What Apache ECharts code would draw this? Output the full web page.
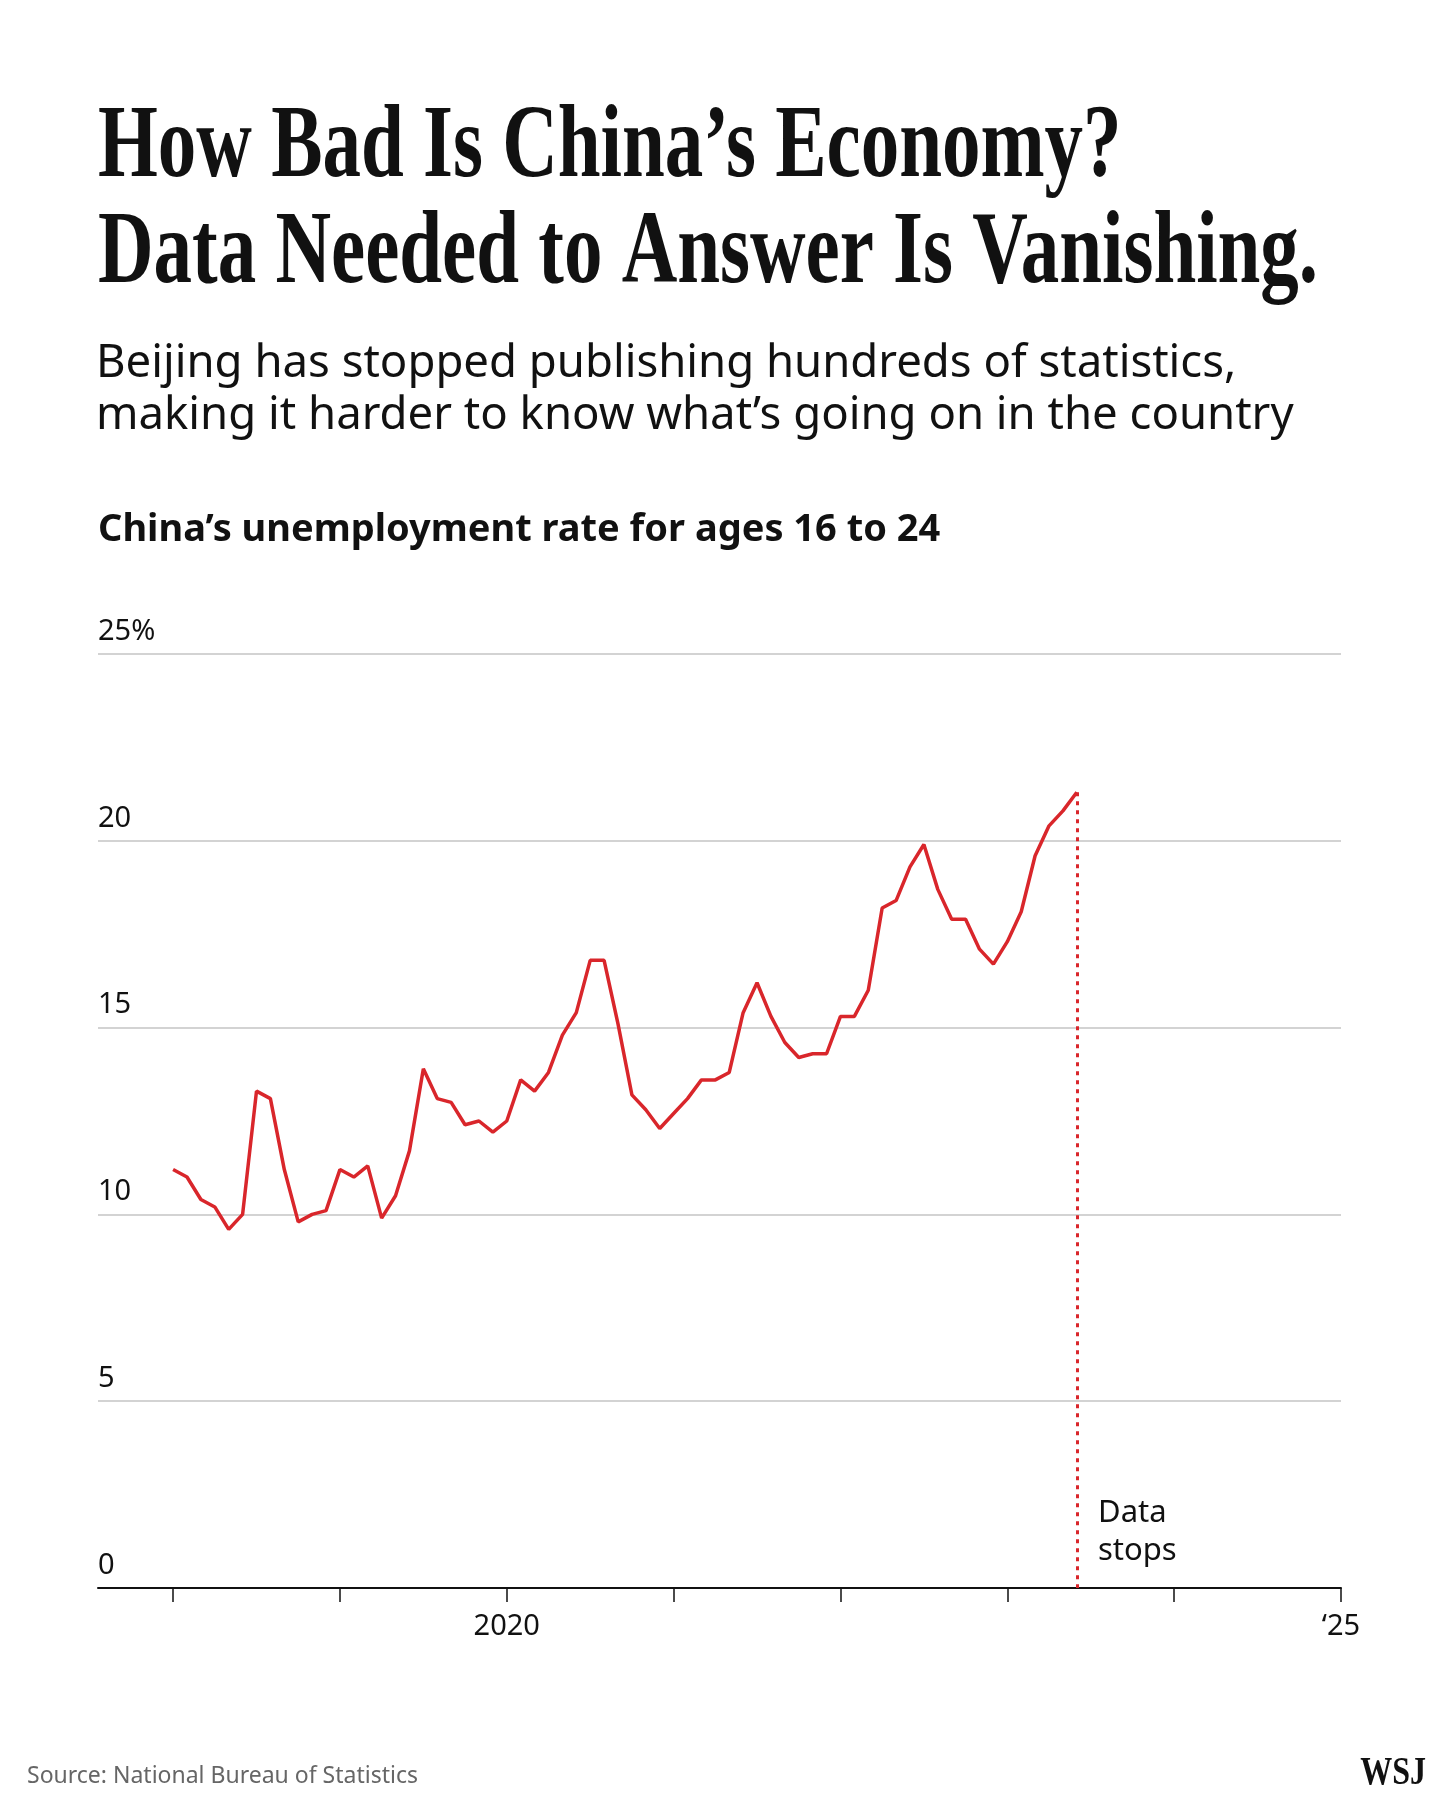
<!DOCTYPE html>
<html><head><meta charset="utf-8">
<script src="https://cdn.jsdelivr.net/npm/echarts@6/dist/echarts.min.js"></script>
<style>html,body{margin:0;padding:0;background:#fff}#c{width:1440px;height:1800px}</style>
</head><body><div id="c"></div>
<script>
const startYear = 2018;
const rates = [
 11.2,11.0,10.4,10.2,9.6,10.0,13.3,13.1,11.2,9.8,10.0,10.1,
 11.2,11.0,11.3,9.9,10.5,11.7,13.9,13.1,13.0,12.4,12.5,12.2,
 12.5,13.6,13.3,13.8,14.8,15.4,16.8,16.8,15.1,13.2,12.8,12.3,
 12.7,13.1,13.6,13.6,13.8,15.4,16.2,15.3,14.6,14.2,14.3,14.3,
 15.3,15.3,16.0,18.2,18.4,19.3,19.9,18.7,17.9,17.9,17.1,16.7,
 17.3,18.1,19.6,20.4,20.8,21.3
];
const yTicks = [0,5,10,15,20,25];
const xTicks = [2018,2019,2020,2021,2022,2023,2024,2025];
const xLabels = {2020:'2020', 2025:'\u201825'};
const data = rates.map((v,i)=>[startYear + i/12, v]);
const last = data[data.length-1];
const red = '#d9262b';
const chart = echarts.init(document.getElementById('c'));
chart.setOption({
  backgroundColor:'#fff',
  animation:false,
  grid:{left:98,right:99,top:654,bottom:212},
  xAxis:{type:'value',min:2017.55,max:2025,
    axisLine:{show:true,lineStyle:{color:'#111',width:2}},
    axisTick:{show:true,customValues:xTicks,length:14,lineStyle:{color:'#111',width:1.5}},
    axisLabel:{customValues:[2020,2025],formatter:v=>xLabels[Math.round(v)]||'',
      fontFamily:'Noto Sans',fontSize:29,color:'#111',margin:24},
    splitLine:{show:false}},
  yAxis:{type:'value',min:0,max:25,interval:5,
    axisLine:{show:false},axisTick:{show:false},
    axisLabel:{inside:true,verticalAlign:'bottom',align:'left',margin:0,padding:[0,0,8,0],
      formatter:v=>v===25?'25%':String(v),fontFamily:'Noto Sans',fontSize:29,color:'#111'},
    splitLine:{lineStyle:{color:'#c4c4c4',width:1.5}}},
  series:[{type:'line',data:data,symbol:'none',lineStyle:{color:red,width:3.5},
    markLine:{silent:true,symbol:'none',label:{show:false},
      lineStyle:{color:red,type:[4,5],width:3},
      data:[[{coord:[last[0],last[1]]},{coord:[last[0],0]}]]}}],
  graphic:[
    {type:'text',left:98,top:96,scaleX:0.74,style:{text:'How Bad Is China\u2019s Economy?\nData Needed to Answer Is Vanishing.',
      font:'bold 104px "Liberation Serif"',lineHeight:106,fill:'#111'}},
    {type:'text',left:96,top:338,style:{text:'Beijing has stopped publishing hundreds of statistics,\nmaking it harder to know what\u2019s going on in the country',
      font:'45.5px "Noto Sans"',lineHeight:52,fill:'#111'}},
    {type:'text',left:98,top:511,style:{text:'China\u2019s unemployment rate for ages 16 to 24',
      font:'bold 38px "Noto Sans"',fill:'#111'}},
    {type:'text',left:1098,top:1494,style:{text:'Data\nstops',font:'31px "Noto Sans"',lineHeight:38,fill:'#111'}},
    {type:'text',left:27,top:1765,style:{text:'Source: National Bureau of Statistics',font:'23px "Noto Sans"',fill:'#666'}},
    {type:'text',right:14,top:1754,scaleX:0.8,style:{text:'WSJ',font:'bold 40px "Liberation Serif"',fill:'#111'}}
  ]
});
</script></body></html>
